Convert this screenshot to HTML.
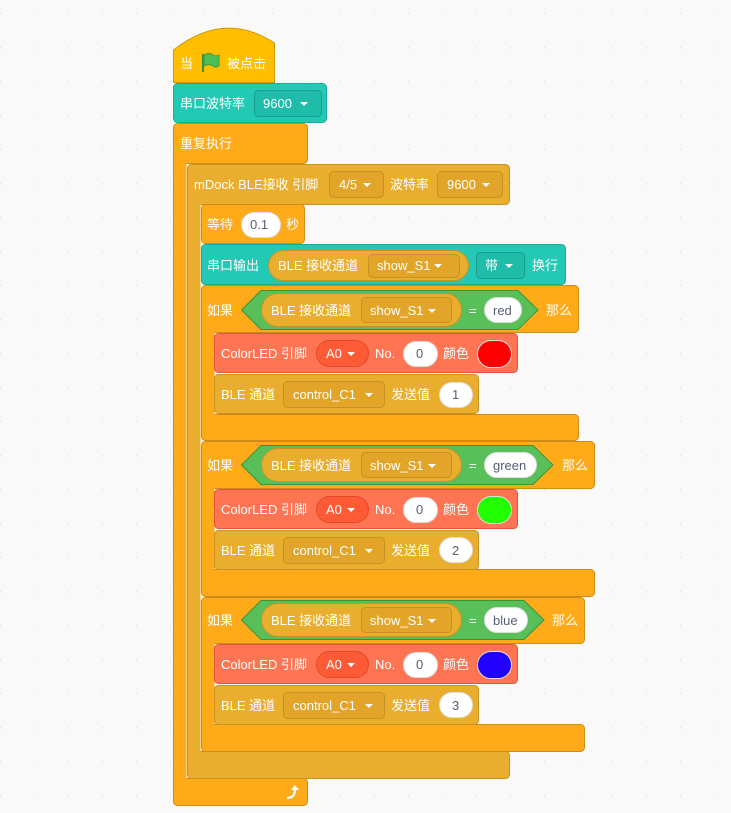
<!DOCTYPE html>
<html><head><meta charset="utf-8"><style>
html,body{margin:0;padding:0;background:#f9f9f9;width:731px;height:813px;overflow:hidden}
svg{display:block}
text{font-family:"Liberation Sans","Noto Sans CJK SC",sans-serif;font-size:13px;fill:#fff}
.d{fill:#575e75}
</style></head><body>
<svg width="731" height="813" viewBox="0 0 731 813">
<defs><pattern id="g" x="0" y="13" width="34" height="34" patternUnits="userSpaceOnUse"><rect x="0" y="0" width="1.2" height="1.2" fill="#ddd"/></pattern></defs>
<rect width="731" height="813" fill="url(#g)"/>
<g stroke-width="1">
<!-- forever -->
<g fill="#ffab19" stroke="#cf8b17">
<rect x="173.5" y="123.5" width="134" height="40" rx="4"/>
<rect x="173.5" y="778.5" width="134" height="27" rx="4"/>
<rect x="173.5" y="140" width="13" height="650" stroke="none"/>
<line x1="173.5" y1="130" x2="173.5" y2="800"/>
</g>
<!-- mDock -->
<g fill="#eaae2e" stroke="#c99322">
<rect x="187.5" y="164.5" width="322" height="40" rx="4"/>
<rect x="187.5" y="751.5" width="322" height="27" rx="4"/>
<rect x="187.5" y="180" width="13" height="585" stroke="none"/>
<line x1="187.5" y1="170" x2="187.5" y2="772"/>
</g>
<!-- hat -->
<path d="M173.5 82.5 V50 Q224 10 274.5 43 V82.5 Z" fill="#ffbf00" stroke="#cc9900"/>
<!-- serial baud -->
<rect x="173.5" y="83.5" width="153" height="39" rx="4" fill="#22c9b5" stroke="#1aa99a"/>
<rect x="254.5" y="90.5" width="67" height="26" rx="4" fill="#1fbca9" stroke="#189c8d"/>
<!-- wait -->
<rect x="201.5" y="204.5" width="103" height="39" rx="4" fill="#ffab19" stroke="#cf8b17"/>
<rect x="241.5" y="212.5" width="39" height="25" rx="12.5" fill="#fff" stroke="#ddd"/>
<!-- serial out -->
<rect x="201.5" y="244.5" width="364" height="40" rx="4" fill="#22c9b5" stroke="#1aa99a"/>
<rect x="268.5" y="250.5" width="200" height="30" rx="15" fill="#eaae2e" stroke="#c99322"/>
<rect x="368.5" y="254.5" width="91" height="23" rx="4" fill="#e2a52a" stroke="#c59223"/>
<rect x="476.5" y="252.5" width="48" height="26" rx="4" fill="#1fbca9" stroke="#189c8d"/>
<!-- mDock dropdowns -->
<rect x="329.5" y="171.5" width="54" height="26" rx="4" fill="#e2a52a" stroke="#c59223"/>
<rect x="437.5" y="171.5" width="65" height="26" rx="4" fill="#e2a52a" stroke="#c59223"/>
</g>

<!-- IF blocks: generated inline -->
<g id="ifs">
<!-- if1 -->
<g fill="#ffab19" stroke="#cf8b17">
<rect x="201.5" y="285.5" width="377" height="47" rx="4"/>
<rect x="201.5" y="414.5" width="377" height="26" rx="4"/>
<rect x="201.5" y="300" width="13" height="130" stroke="none"/>
<line x1="201.5" y1="290" x2="201.5" y2="436"/>
</g>
<polygon points="241.5,310 261,290.5 518,290.5 538,310 518,329.5 261,329.5" fill="#59c059" stroke="#389438"/>
<rect x="261.5" y="293.5" width="200" height="33" rx="16.5" fill="#eaae2e" stroke="#c99322"/>
<rect x="361.5" y="297.5" width="90" height="25" rx="4" fill="#e2a52a" stroke="#c59223"/>
<rect x="484.5" y="297.5" width="37" height="25" rx="12.5" fill="#fff" stroke="#ddd"/>
<rect x="214.5" y="333.5" width="303" height="39" rx="4" fill="#ff7452" stroke="#e0543a"/>
<rect x="316.5" y="340.5" width="52" height="26" rx="13" fill="#ff5a36" stroke="#e04a2a"/>
<rect x="403.5" y="341.5" width="34" height="25" rx="12.5" fill="#fff" stroke="#ddd"/>
<rect x="477.5" y="340.5" width="34" height="27" rx="13.5" fill="#ff0000" stroke="#e0e0e0"/>
<rect x="214.5" y="374.5" width="264" height="39" rx="4" fill="#eaae2e" stroke="#c99322"/>
<rect x="283.5" y="381.5" width="101" height="26" rx="4" fill="#e2a52a" stroke="#c59223"/>
<rect x="439.5" y="382.5" width="33" height="25" rx="12.5" fill="#fff" stroke="#ddd"/>

<!-- if2 -->
<g fill="#ffab19" stroke="#cf8b17">
<rect x="201.5" y="441.5" width="393" height="47" rx="4"/>
<rect x="201.5" y="569.5" width="393" height="27" rx="4"/>
<rect x="201.5" y="456" width="13" height="130" stroke="none"/>
<line x1="201.5" y1="446" x2="201.5" y2="592"/>
</g>
<polygon points="241.5,465 261,445.5 533,445.5 553,465 533,484.5 261,484.5" fill="#59c059" stroke="#389438"/>
<rect x="261.5" y="448.5" width="200" height="33" rx="16.5" fill="#eaae2e" stroke="#c99322"/>
<rect x="361.5" y="452.5" width="90" height="25" rx="4" fill="#e2a52a" stroke="#c59223"/>
<rect x="484.5" y="452.5" width="52" height="25" rx="12.5" fill="#fff" stroke="#ddd"/>
<rect x="214.5" y="489.5" width="303" height="39" rx="4" fill="#ff7452" stroke="#e0543a"/>
<rect x="316.5" y="496.5" width="52" height="26" rx="13" fill="#ff5a36" stroke="#e04a2a"/>
<rect x="403.5" y="497.5" width="34" height="25" rx="12.5" fill="#fff" stroke="#ddd"/>
<rect x="477.5" y="496.5" width="34" height="27" rx="13.5" fill="#22ff00" stroke="#e0e0e0"/>
<rect x="214.5" y="530.5" width="264" height="39" rx="4" fill="#eaae2e" stroke="#c99322"/>
<rect x="283.5" y="537.5" width="101" height="26" rx="4" fill="#e2a52a" stroke="#c59223"/>
<rect x="439.5" y="537.5" width="33" height="25" rx="12.5" fill="#fff" stroke="#ddd"/>

<!-- if3 -->
<g fill="#ffab19" stroke="#cf8b17">
<rect x="201.5" y="597.5" width="383" height="46" rx="4"/>
<rect x="201.5" y="724.5" width="383" height="27" rx="4"/>
<rect x="201.5" y="612" width="13" height="125" stroke="none"/>
<line x1="201.5" y1="602" x2="201.5" y2="747"/>
</g>
<polygon points="241.5,620 261,600.5 524,600.5 544,620 524,639.5 261,639.5" fill="#59c059" stroke="#389438"/>
<rect x="261.5" y="603.5" width="200" height="33" rx="16.5" fill="#eaae2e" stroke="#c99322"/>
<rect x="361.5" y="607.5" width="90" height="25" rx="4" fill="#e2a52a" stroke="#c59223"/>
<rect x="484.5" y="607.5" width="43" height="25" rx="12.5" fill="#fff" stroke="#ddd"/>
<rect x="214.5" y="644.5" width="303" height="39" rx="4" fill="#ff7452" stroke="#e0543a"/>
<rect x="316.5" y="651.5" width="52" height="26" rx="13" fill="#ff5a36" stroke="#e04a2a"/>
<rect x="403.5" y="652.5" width="34" height="25" rx="12.5" fill="#fff" stroke="#ddd"/>
<rect x="477.5" y="651.5" width="34" height="27" rx="13.5" fill="#2200ff" stroke="#e0e0e0"/>
<rect x="214.5" y="685.5" width="264" height="39" rx="4" fill="#eaae2e" stroke="#c99322"/>
<rect x="283.5" y="692.5" width="101" height="26" rx="4" fill="#e2a52a" stroke="#c59223"/>
<rect x="439.5" y="692.5" width="33" height="25" rx="12.5" fill="#fff" stroke="#ddd"/>
</g>

<!-- flag -->
<path d="M203 54 V72" stroke="#3e8e3e" stroke-width="2"/>
<path d="M204 55 Q210 52 213 55 Q216 57 219 55 V66 Q216 68 213 66 Q210 63 204 66 Z" fill="#4cbf56" stroke="#45993d" stroke-width="1"/>

<!-- texts -->
<text x="180" y="68">当</text><text x="227" y="68">被点击</text>
<text x="180" y="108">串口波特率</text><text x="263" y="108">9600</text>
<text x="180" y="148">重复执行</text>
<text x="194" y="189">mDock BLE接收 引脚</text><text x="339" y="189">4/5</text><text x="390" y="189">波特率</text><text x="447" y="189">9600</text>
<text x="207" y="229">等待</text><text x="250" y="229" class="d">0.1</text><text x="286" y="229">秒</text>
<text x="207" y="270">串口输出</text><text x="278" y="270">BLE 接收通道</text><text x="377" y="270">show_S1</text><text x="485" y="270">带</text><text x="532" y="270">换行</text>

<text x="207" y="315">如果</text><text x="271" y="315">BLE 接收通道</text><text x="370" y="315">show_S1</text><text x="469" y="315">=</text><text x="493" y="315" class="d">red</text><text x="546" y="315">那么</text>
<text x="221" y="358">ColorLED 引脚</text><text x="326" y="358">A0</text><text x="375" y="358">No.</text><text x="416" y="358" class="d">0</text><text x="443" y="358">颜色</text>
<text x="221" y="399">BLE 通道</text><text x="293" y="399">control_C1</text><text x="391" y="399">发送值</text><text x="452" y="399" class="d">1</text>

<text x="207" y="470">如果</text><text x="271" y="470">BLE 接收通道</text><text x="370" y="470">show_S1</text><text x="469" y="470">=</text><text x="493" y="470" class="d">green</text><text x="562" y="470">那么</text>
<text x="221" y="514">ColorLED 引脚</text><text x="326" y="514">A0</text><text x="375" y="514">No.</text><text x="416" y="514" class="d">0</text><text x="443" y="514">颜色</text>
<text x="221" y="555">BLE 通道</text><text x="293" y="555">control_C1</text><text x="391" y="555">发送值</text><text x="452" y="555" class="d">2</text>

<text x="207" y="625">如果</text><text x="271" y="625">BLE 接收通道</text><text x="370" y="625">show_S1</text><text x="469" y="625">=</text><text x="493" y="625" class="d">blue</text><text x="552" y="625">那么</text>
<text x="221" y="669">ColorLED 引脚</text><text x="326" y="669">A0</text><text x="375" y="669">No.</text><text x="416" y="669" class="d">0</text><text x="443" y="669">颜色</text>
<text x="221" y="710">BLE 通道</text><text x="293" y="710">control_C1</text><text x="391" y="710">发送值</text><text x="452" y="710" class="d">3</text>

<!-- dropdown arrows -->
<g fill="#fff">
<polygon points="300,102 308,102 304,106"/>
<polygon points="363,183 371,183 367,187"/>
<polygon points="482,183 490,183 486,187"/>
<polygon points="434,264 442,264 438,268"/>
<polygon points="505,264 513,264 509,268"/>
<polygon points="428,309 436,309 432,313"/>
<polygon points="428,464 436,464 432,468"/>
<polygon points="428,619 436,619 432,623"/>
<polygon points="347,352 355,352 351,356"/>
<polygon points="347,508 355,508 351,512"/>
<polygon points="347,663 355,663 351,667"/>
<polygon points="365,393 373,393 369,397"/>
<polygon points="365,549 373,549 369,553"/>
<polygon points="365,704 373,704 369,708"/>
</g>
<!-- loop arrow -->
<path d="M287 798 Q295 798 295 789" stroke="#fff" stroke-width="2.2" fill="none"/>
<polygon points="291,790 299,790 295,785" fill="#fff"/>
</svg>
</body></html>
